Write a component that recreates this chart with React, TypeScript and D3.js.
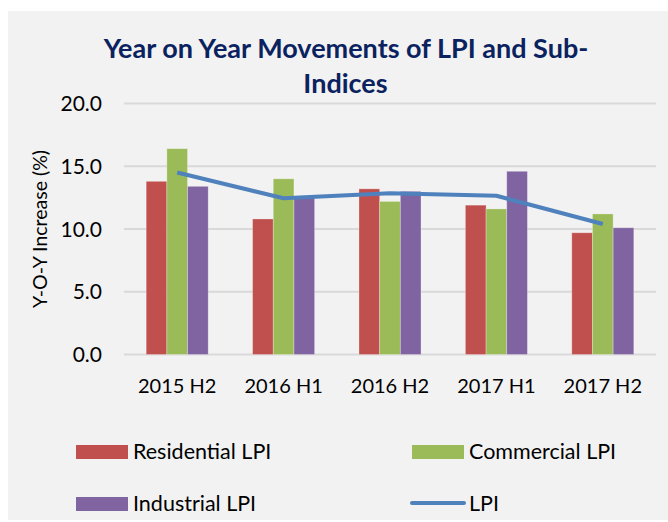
import React from "react";
import * as d3 from "d3";

const categories = ["2015 H2", "2016 H1", "2016 H2", "2017 H1", "2017 H2"];
const residential = [13.8, 10.8, 13.2, 11.9, 9.7];
const commercial = [16.4, 14.0, 12.2, 11.6, 11.2];
const industrial = [13.4, 12.6, 13.0, 14.6, 10.1];
const lpi = [14.5, 12.45, 12.85, 12.65, 10.4];
const yTicks = [0, 5, 10, 15, 20];

const seriesNames = ["Residential LPI", "Commercial LPI", "Industrial LPI"];
const colors = ["#C0504D", "#9BBB59", "#8064A2"];
const lineColor = "#4F81BD";
const FONT = "Lato, 'Open Sans', sans-serif";

export default function App() {
  const W = 668, H = 522;
  const left = 124, right = 656, top = 103.5, bottom = 354.5;
  const x = d3.scaleBand().domain(categories).range([left, right]).paddingInner(0.417).paddingOuter(0.2085);
  const y = d3.scaleLinear().domain([0, 20]).range([bottom, top]);
  const inner = d3.scaleBand().domain(seriesNames).range([0, x.bandwidth()]);
  const data = [residential, commercial, industrial];
  const line = d3.line<number>().x((_, i) => (x(categories[i]) as number) + x.bandwidth() / 2).y((d) => y(d));

  return (
    <svg width={W} height={H} style={{ position: "absolute", left: 0, top: 0 }} fontFamily={FONT}>
      <rect x={8} y={11} width={W - 8} height={509} fill="#F2F2F2" />
      <text x={346} y={58.3} textAnchor="middle" fontSize={27} fontWeight="bold" fill="#0B2260">
        Year on Year Movements of LPI and Sub-
      </text>
      <text x={345.5} y={93.3} textAnchor="middle" fontSize={27} fontWeight="bold" fill="#0B2260">
        Indices
      </text>
      {yTicks.map((t) => (
        <g key={t}>
          <line x1={left} x2={right} y1={y(t)} y2={y(t)} stroke="#D9D9D9" strokeWidth={2} />
          <text x={102} y={y(t)} dy="0.36em" textAnchor="end" fontSize={21} fill="#000">
            {t.toFixed(1)}
          </text>
        </g>
      ))}
      <text transform={`translate(47,${229}) rotate(-90)`} textAnchor="middle" fontSize={19.5} fill="#000">
        Y-O-Y Increase (%)
      </text>
      {data.map((series, si) =>
        series.map((v, ci) => (
          <rect
            key={`${si}-${ci}`}
            x={(x(categories[ci]) as number) + (inner(seriesNames[si]) as number)}
            y={y(v)}
            width={inner.bandwidth()}
            height={y(0) - y(v)}
            fill={colors[si]}
            stroke="rgba(255,255,255,0.35)"
            strokeWidth={0.8}
          />
        ))
      )}
      <path d={line(lpi) || ""} fill="none" stroke={lineColor} strokeWidth={4} strokeLinejoin="round" />
      {categories.map((c) => (
        <text key={c} x={(x(c) as number) + x.bandwidth() / 2} y={392.7} textAnchor="middle" fontSize={20} fill="#000">
          {c}
        </text>
      ))}
      <g fontSize={21.5} fill="#000">
        <rect x={76} y={445} width={52} height={14} fill={colors[0]} />
        <text x={133} y={459}>{seriesNames[0]}</text>
        <rect x={412} y={445} width={52} height={14} fill={colors[1]} />
        <text x={469} y={459}>{seriesNames[1]}</text>
        <rect x={76} y={497} width={52} height={14} fill={colors[2]} />
        <text x={133} y={511}>{seriesNames[2]}</text>
        <line x1={412} x2={464} y1={503} y2={503} stroke={lineColor} strokeWidth={4} strokeLinecap="round" />
        <text x={469} y={511}>LPI</text>
      </g>
    </svg>
  );
}
